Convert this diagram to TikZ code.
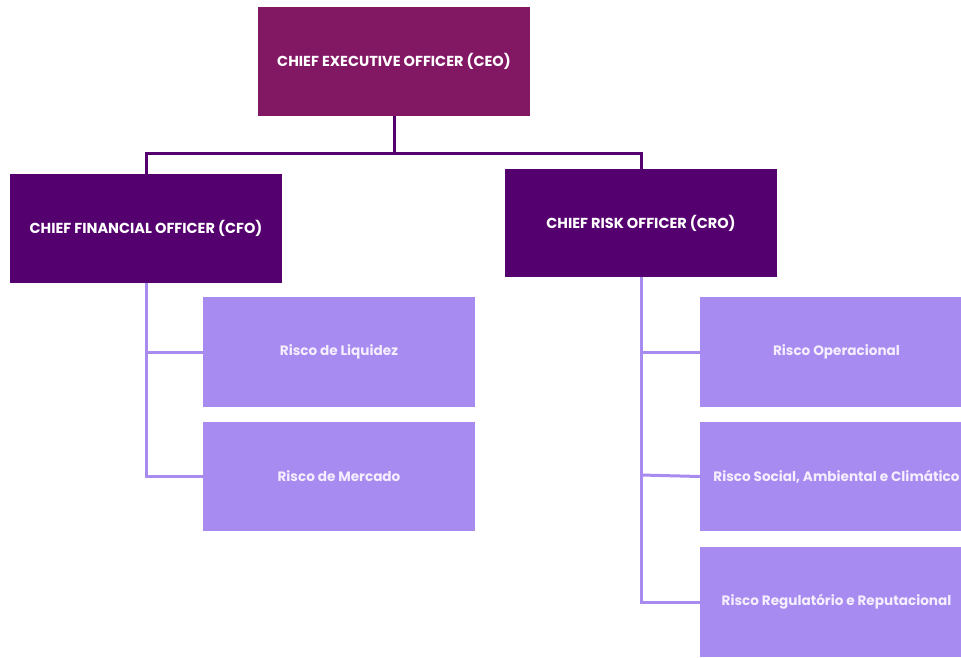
\documentclass[tikz,border=0pt]{standalone}
\usepackage{fontspec}
\setmainfont{Poppins}
\definecolor{ceoc}{HTML}{821763}
\definecolor{offc}{HTML}{55006F}
\definecolor{subc}{HTML}{A78BF0}
\definecolor{subt}{HTML}{F4EEFF}
\tikzset{
  box/.style={rectangle, inner sep=0pt, minimum width=272pt, minimum height=109pt, font=\bfseries\fontsize{14.5}{16}\selectfont, text=white},
  ceobox/.style={box, fill=ceoc},
  offbox/.style={box, fill=offc},
  subbox/.style={box, fill=subc, text=subt, minimum width=273pt, minimum height=110pt, font=\bfseries\fontsize{13.6}{15}\selectfont},
  dk/.style={draw=offc, line width=3pt},
  lt/.style={draw=subc, line width=3pt}
}
\begin{document}
\begin{tikzpicture}[x=1pt,y=-1pt]
\useasboundingbox (0,0) rectangle (961,657);
\clip (0,0) rectangle (961,657);
\node[ceobox] (ceo) at (394,61.5) {CHIEF EXECUTIVE OFFICER (CEO)};
\node[offbox] (cfo) at (146,228.5) {CHIEF FINANCIAL OFFICER (CFO)};
\node[offbox, minimum height=108pt] (cro) at (641,223) {CHIEF RISK OFFICER (CRO)};
\node[subbox, minimum width=272pt] (liq) at (339,352) {Risco de Liquidez};
\node[subbox, minimum width=272pt, minimum height=109pt] (merc) at (339,476.5) {Risco de Mercado};
\node[subbox] (oper) at (836.5,352) {Risco Operacional};
\node[subbox, minimum height=109pt] (soc) at (836.5,476.5) {Risco Social, Ambiental e Climático};
\node[subbox] (reg) at (836.5,602) {Risco Regulatório e Reputacional};
\coordinate (bar) at (394,153);
\draw[dk] (ceo.south) -- (bar);
\draw[dk] (cfo.north) |- (bar) -| (cro.north);
\draw[lt] (cfo.south) |- (liq.west);
\draw[lt] (cfo.south) |- (merc.west);
\draw[lt] (cro.south) |- (oper.west);
\draw[lt] (cro.south) |- (reg.west);
\coordinate (socj) at (641,475);
\draw[lt] (socj) -- (soc.west);
\end{tikzpicture}
\end{document}
